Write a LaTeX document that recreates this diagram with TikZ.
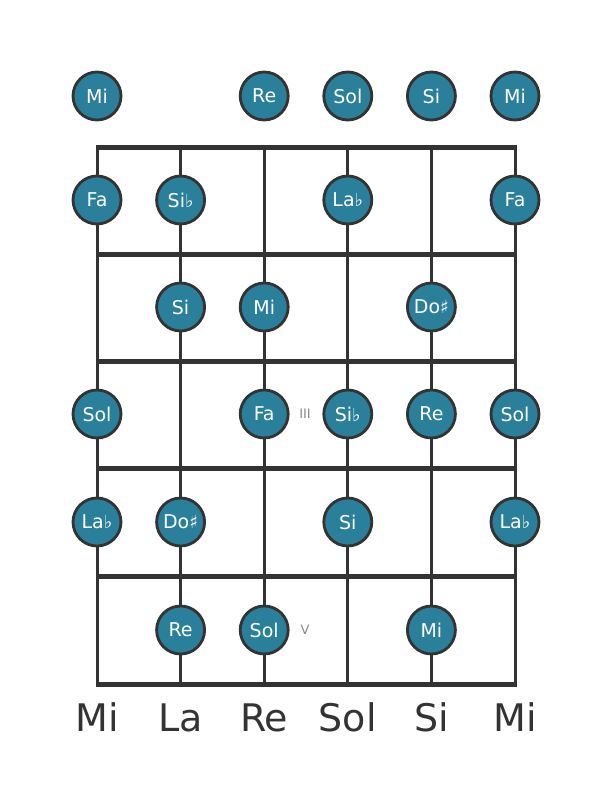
\documentclass[tikz,border=0pt]{standalone}
\usepackage{fontspec}
\setmainfont{DejaVu Sans}
\definecolor{teal1}{HTML}{2A7F9A}
\definecolor{ink}{HTML}{333333}
\definecolor{mark}{HTML}{888888}
\newcommand{\fl}{{\fontsize{18pt}{18pt}\selectfont ♭}}
\newcommand{\shp}{{\fontsize{18pt}{18pt}\selectfont ♯}}
\begin{document}
\begin{tikzpicture}[x=1pt,y=-1pt,
  note/.style={circle,draw=ink,line width=2.8pt,fill=teal1,minimum size=48pt,inner sep=0pt,text=white,font=\fontsize{19pt}{19pt}\selectfont},
  fretline/.style={draw=ink,line width=5pt},
  stringline/.style={draw=ink,line width=3pt},
  fretmark/.style={text=mark,font=\fontsize{13pt}{13pt}\selectfont},
  strname/.style={text=ink,font=\fontsize{38pt}{38pt}\selectfont,anchor=base}]
\useasboundingbox (0,0) rectangle (611,801);
% strings
\foreach \x [count=\i] in {97,180.6,264.2,347.8,431.4,515} {
  \coordinate (st\i) at (\x,147);
  \coordinate (sb\i) at (\x,684);
  \draw[stringline] (st\i) -- (sb\i);
}
% frets
\foreach \y [count=\j] in {147,254,361,468,576,684} {
  \coordinate (fl\j) at (95.5,\y);
  \coordinate (fr\j) at (516.5,\y);
  \draw[fretline] (fl\j) -- (fr\j);
}
% open row
\node[note] (o1) at (97,96) {Mi};
\node[note] (o3) at (264.2,96) {Re};
\node[note] (o4) at (347.8,96) {Sol};
\node[note] (o5) at (431.4,96) {Si};
\node[note] (o6) at (515,96) {Mi};
% fret 1
\node[note] (a1) at (97,200) {Fa};
\node[note] (a2) at (180.6,200) {Si\fl};
\node[note] (a4) at (347.8,200) {La\fl};
\node[note] (a6) at (515,200) {Fa};
% fret 2
\node[note] (b2) at (180.6,307) {Si};
\node[note] (b3) at (264.2,307) {Mi};
\node[note] (b5) at (431.4,307) {Do\shp};
% fret 3
\node[note] (c1) at (97,414) {Sol};
\node[note] (c3) at (264.2,414) {Fa};
\node[note] (c4) at (347.8,414) {Si\fl};
\node[note] (c5) at (431.4,414) {Re};
\node[note] (c6) at (515,414) {Sol};
\node[fretmark] (m3) at (305,414) {III};
% fret 4
\node[note] (d1) at (97,522) {La\fl};
\node[note] (d2) at (180.6,522) {Do\shp};
\node[note] (d4) at (347.8,522) {Si};
\node[note] (d6) at (515,522) {La\fl};
% fret 5
\node[note] (e2) at (180.6,630) {Re};
\node[note] (e3) at (264.2,630) {Sol};
\node[note] (e5) at (431.4,630) {Mi};
\node[fretmark] (m5) at (305,630) {V};
% string names
\node[strname] (n1) at (97,731) {Mi};
\node[strname] (n2) at (180.6,731) {La};
\node[strname] (n3) at (264.2,731) {Re};
\node[strname] (n4) at (347.8,731) {Sol};
\node[strname] (n5) at (431.4,731) {Si};
\node[strname] (n6) at (515,731) {Mi};
\end{tikzpicture}
\end{document}
